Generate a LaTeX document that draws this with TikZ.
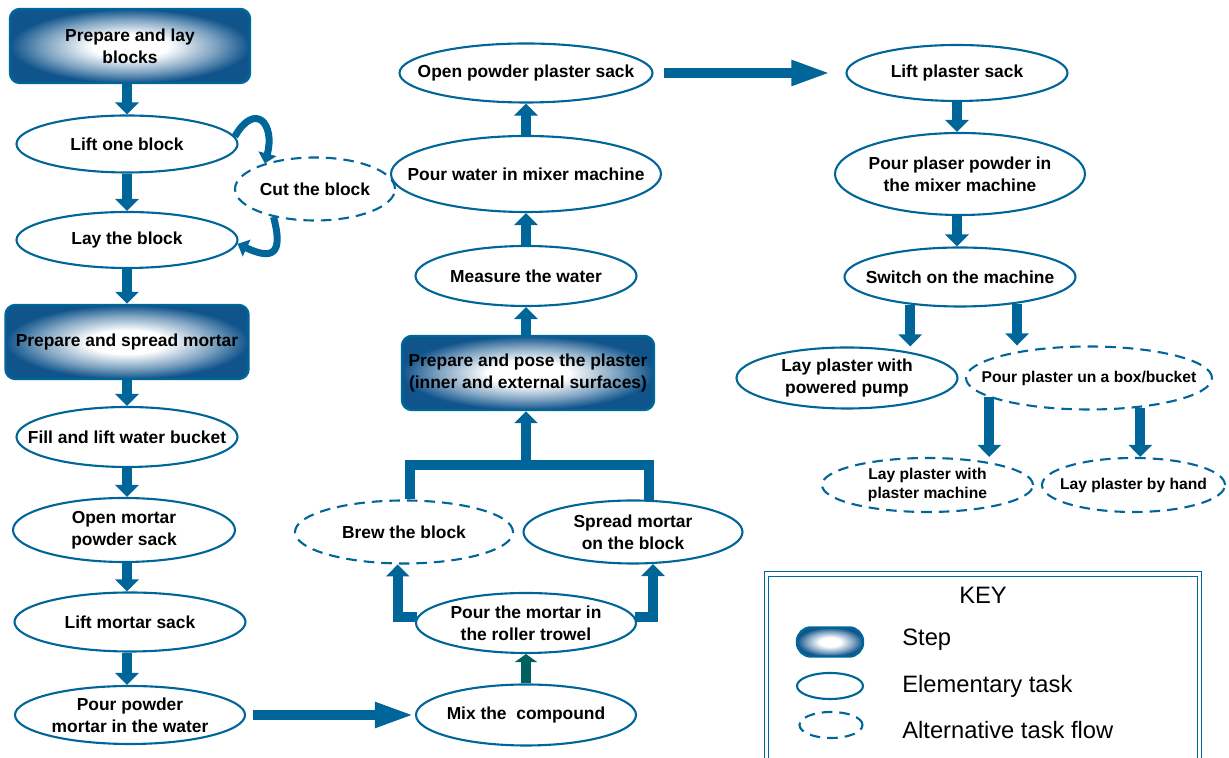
\documentclass[tikz,border=0pt]{standalone}
\usepackage{fontspec}
\setmainfont{Liberation Sans}
\usepackage{tikz}
\usetikzlibrary{arrows.meta,shapes.geometric,calc}
\definecolor{taskblue}{RGB}{0,102,153}
\definecolor{stepedge}{RGB}{16,84,140}
\definecolor{mixteal}{RGB}{0,96,96}
\pgfdeclareradialshading{stepglow}{\pgfpoint{0bp}{0bp}}{%
  color(0bp)=(white); color(8bp)=(white); color(18bp)=(stepedge!55!white);
  color(25bp)=(stepedge); color(50bp)=(stepedge)}

\begin{document}
\begin{tikzpicture}[
  font=\bfseries\fontsize{9.9}{12.5}\selectfont,
  task/.style={ellipse, draw=taskblue, line width=1.2pt, align=center,
    inner xsep=-3cm, inner ysep=-1cm},
  alttask/.style={task, dash pattern=on 6pt off 4pt},
  smalltxt/.style={font=\bfseries\fontsize{8.9}{11.2}\selectfont},
  stepbox/.style={rectangle, rounded corners=0.2cm, draw=taskblue, line width=1.4pt,
    shade, shading=stepglow, align=center, inner sep=1pt},
  flow/.style={draw=taskblue, line width=0.2cm, -{Triangle[length=0.24cm,width=0.46cm]}},
  longflow/.style={flow, -{Triangle[length=0.8cm,width=0.46cm]}},
  hook/.style={draw=taskblue, line width=0.14cm, -{Triangle[length=0.2cm,width=0.36cm]}},
  keytext/.style={font=\fontsize{13.5}{16}\selectfont, anchor=west, inner sep=0pt}
]
\useasboundingbox (0,0) rectangle (24.58,15.16);

% left column: blocks and mortar
\node[stepbox, minimum width=4.8cm, minimum height=1.48cm] (step1) at (2.6,14.24) {Prepare and lay\\blocks};
\node[task, minimum width=4.42cm, minimum height=1.14cm] (lift) at (2.54,12.28) {Lift one block};
\node[alttask, minimum width=3.2cm, minimum height=1.26cm] (cut) at (6.3,11.38) {Cut the block};
\node[task, minimum width=4.42cm, minimum height=1.12cm] (lay) at (2.54,10.36) {Lay the block};
\node[stepbox, minimum width=4.86cm, minimum height=1.48cm] (step2) at (2.54,8.32) {Prepare and spread mortar};
\node[task, minimum width=4.42cm, minimum height=1.2cm] (fill) at (2.54,6.42) {Fill and lift water bucket};
\node[task, minimum width=4.44cm, minimum height=1.28cm] (openm) at (2.48,4.56) {Open mortar\\powder sack};
\node[task, minimum width=4.62cm, minimum height=1.18cm] (liftm) at (2.6,2.72) {Lift mortar sack};
\node[task, minimum width=4.6cm, minimum height=1.16cm] (pourp) at (2.6,0.86) {Pour powder\\mortar in the water};

% middle column: plaster preparation
\node[task, minimum width=5.06cm, minimum height=1.18cm] (opp) at (10.52,13.7) {Open powder plaster sack};
\node[task, minimum width=5.4cm, minimum height=1.52cm] (pourw) at (10.52,11.68) {Pour water in mixer machine};
\node[task, minimum width=4.42cm, minimum height=1.2cm] (measure) at (10.52,9.64) {Measure the water};
\node[stepbox, minimum width=5.04cm, minimum height=1.48cm] (step3) at (10.56,7.7) {Prepare and pose the plaster\\(inner and external surfaces)};
\node[alttask, minimum width=4.36cm, minimum height=1.26cm] (brew) at (8.08,4.52) {Brew the block};
\node[task, minimum width=4.38cm, minimum height=1.26cm] (spread) at (12.66,4.52) {Spread mortar\\on the block};
\node[task, minimum width=4.4cm, minimum height=1.2cm] (pourm) at (10.52,2.7) {Pour the mortar in\\the roller trowel};
\node[task, minimum width=4.4cm, minimum height=1.22cm] (mix) at (10.52,0.86) {Mix the~ compound};
\coordinate (join) at (10.52,5.86);

% right column: plaster laying
\node[task, minimum width=4.42cm, minimum height=1.12cm] (liftp) at (19.14,13.7) {Lift plaster sack};
\node[task, minimum width=5cm, minimum height=1.64cm] (pourpl) at (19.2,11.68) {Pour plaser powder in\\the mixer machine};
\node[task, minimum width=4.62cm, minimum height=1.18cm] (switch) at (19.2,9.62) {Switch on the machine};
\node[task, minimum width=4.42cm, minimum height=1.22cm] (pump) at (16.94,7.6) {Lay plaster with\\powered pump};
\node[alttask, smalltxt, minimum width=4.92cm, minimum height=1.26cm] (box) at (21.78,7.6) {Pour plaster un a box/bucket};
\node[alttask, smalltxt, minimum width=4.22cm, minimum height=1.08cm] (machine) at (18.55,5.46) {Lay plaster with\\plaster machine};
\node[alttask, smalltxt, minimum width=3.66cm, minimum height=1.08cm] (hand) at (22.67,5.46) {Lay plaster by hand};

% arrows left column
\draw[flow] (step1.south -| lift.north) -- (lift.north);
\draw[flow] (lift.south) -- (lay.north);
\draw[flow] (lay.south) -- (step2.north);
\draw[flow] (step2.south) -- (fill.north);
\draw[flow] (fill.south) -- (fill.south |- openm.north);
\draw[flow] (fill.south |- openm.south) -- (fill.south |- liftm.north);
\draw[flow] (fill.south |- liftm.south) -- (fill.south |- pourp.north);
\draw[hook] (lift.4) to[out=60,in=75,looseness=2.6] (cut.153);
\draw[hook] (cut.214) to[out=-75,in=-25,looseness=2.2] (lay.-2);
\draw[longflow, shorten <=0.14cm] (pourp.east) -- (mix.west);

% arrows middle column
\draw[flow, draw=mixteal, -{Triangle[length=0.16cm,width=0.44cm]}] (mix.north) -- (pourm.south);
\draw[flow] (pourm.177) -| (brew.259);
\draw[flow] (pourm.3) -| (spread.-58);
\draw[draw=taskblue, line width=0.2cm] (brew.79) |- (join) -| (spread.64);
\draw[flow] (join) -- (join |- step3.south);
\draw[flow] (join |- step3.north) -- (measure.south);
\draw[flow] (measure.north) -- (pourw.south);
\draw[flow] (pourw.north) -- (opp.south);
\draw[longflow, shorten <=0.2cm, shorten >=0.28cm] (opp.east) -- (liftp.west);

% arrows right column
\draw[flow] (liftp.south) -- (liftp.south |- pourpl.north);
\draw[flow] (liftp.south |- pourpl.south) -- (liftp.south |- switch.north);
\draw[flow] (switch.209) -- (switch.209 |- pump.north);
\draw[flow] (switch.-25) -- (switch.-25 |- box.north);
\draw[flow] (box.191) -- (box.191 |- machine.north);
\draw[flow] (box.-30) -- (box.-30 |- hand.north);

% key (bottom edge runs off the page)
\node[draw=taskblue, double=white, double distance=1.8pt, line width=0.8pt,
  minimum width=8.66cm, minimum height=3.84cm] (keybox) at (19.66,1.76) {};
\node[font=\fontsize{13.5}{16}\selectfont] (keytitle) at (19.66,3.26) {KEY};
\node[stepbox, rounded corners=0.28cm, minimum width=1.32cm, minimum height=0.58cm] (keystep) at (16.6,2.32) {};
\node[task, minimum width=1.32cm, minimum height=0.52cm] (keytask) at (16.6,1.44) {};
\node[alttask, minimum width=1.26cm, minimum height=0.52cm] (keyalt) at (16.62,0.66) {};
\node[keytext] (keysteptxt) at (18.04,2.36) {Step};
\node[keytext] (keytasktxt) at (18.04,1.44) {Elementary task};
\node[keytext] (keyalttxt) at (18.04,0.56) {Alternative task flow};

\end{tikzpicture}
\end{document}
